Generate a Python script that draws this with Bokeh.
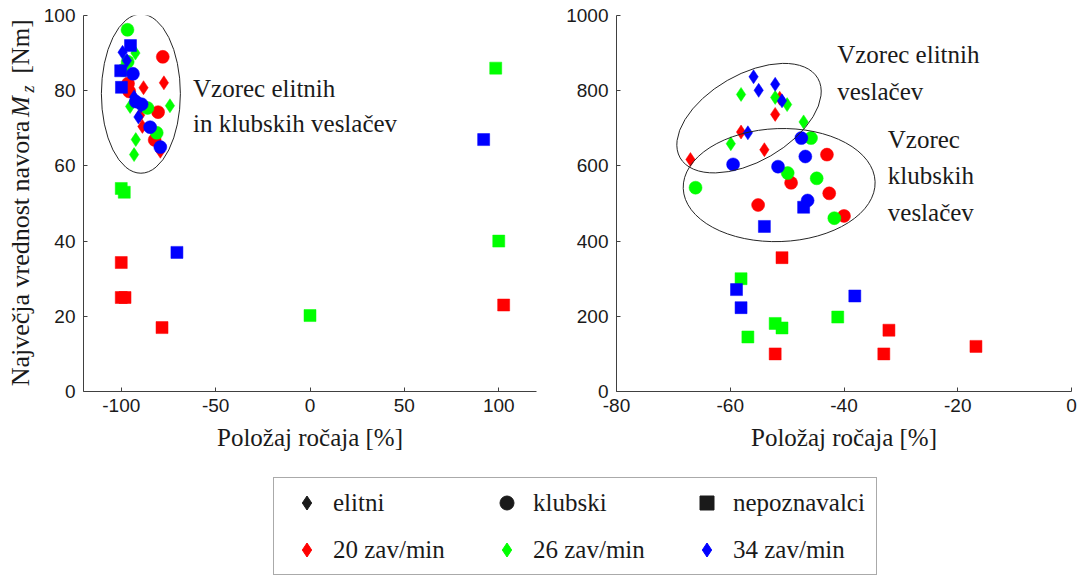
import numpy as np
from bokeh.plotting import figure
from bokeh.models import (Range1d, FixedTicker, Label, Legend, LegendItem,
                          CustomJSTickFormatter)
from bokeh.layouts import column, row
from bokeh.embed import file_html
from bokeh.resources import INLINE

# ---------------------------------------------------------------------------
# Peak handle torque Mz vs. handle position at which it occurs.
# Groups: elite rowers (diamond), club rowers (circle), novices (square);
# colour = stroke rate (20 / 26 / 34 strokes per minute).
# ---------------------------------------------------------------------------

# Left panel: position in % of the stroke, torque in Nm
left_elite_20_x = [-77.4, -88.2, -88.8, -79.3, -90.0]
left_elite_20_y = [82.1, 80.8, 70.5, 63.9, 73.5]
left_elite_26_x = [-92.5, -95.3, -74.2, -92.3, -93.2]
left_elite_26_y = [90.0, 75.8, 76.0, 67.0, 63.0]
left_elite_34_x = [-99.3, -97.0, -93.2, -90.9, -89.5]
left_elite_34_y = [90.2, 88.0, 78.3, 73.0, 76.0]

left_club_20_x = [-78.0, -96.4, -95.8, -80.5, -82.3]
left_club_20_y = [89.0, 81.9, 79.8, 74.3, 66.9]
left_club_26_x = [-96.7, -96.6, -99.0, -86.1, -81.2]
left_club_26_y = [96.2, 87.7, 85.5, 75.4, 68.8]
left_club_34_x = [-93.8, -92.3, -89.2, -84.7, -79.3]
left_club_34_y = [84.5, 77.1, 76.4, 70.3, 65.0]

left_novice_20_x = [-100.0, -100.0, -98.0, -78.4, 102.6]
left_novice_20_y = [34.3, 25.0, 25.0, 17.0, 23.0]
left_novice_26_x = [-100.0, -98.4, 0.0, 100.0, 98.4]
left_novice_26_y = [54.0, 53.0, 20.2, 40.0, 86.0]
left_novice_34_x = [-95.1, -100.3, -99.9, -70.5, 92.0]
left_novice_34_y = [92.0, 85.3, 80.9, 37.0, 67.0]

# Right panel: position in %, torque scale 0..1000
right_elite_20_x = [-52.1, -51.3, -58.1, -54.0, -67.0]
right_elite_20_y = [737, 780, 690, 643, 617]
right_elite_26_x = [-58.1, -52.1, -50.0, -47.1, -59.9]
right_elite_26_y = [790, 782, 763, 717, 659]
right_elite_34_x = [-55.9, -55.0, -52.1, -50.9, -56.9]
right_elite_34_y = [837, 801, 817, 773, 688]

right_club_20_x = [-43.0, -49.3, -42.6, -55.1, -40.0]
right_club_20_y = [630, 555, 527, 496, 467]
right_club_26_x = [-45.8, -49.9, -44.8, -66.1, -41.7]
right_club_26_y = [674, 581, 567, 542, 461]
right_club_34_x = [-47.5, -46.8, -59.5, -51.6, -46.4]
right_club_34_y = [674, 625, 604, 598, 508]

right_novice_20_x = [-50.9, -52.1, -32.1, -33.0, -16.8]
right_novice_20_y = [356, 100, 163, 100, 120]
right_novice_26_x = [-58.1, -52.1, -50.9, -56.9, -41.1]
right_novice_26_y = [300, 181, 169, 145, 198]
right_novice_34_x = [-58.9, -58.1, -38.1, -47.1, -54.0]
right_novice_34_y = [271, 223, 254, 490, 439]

left_xticks = [-100, -50, 0, 50, 100]
left_yticks = [0, 20, 40, 60, 80, 100]
right_xticks = [-80, -60, -40, -20, 0]
right_yticks = [0, 200, 400, 600, 800, 1000]

group_labels = ["elitni", "klubski", "nepoznavalci"]
rate_labels = ["20 zav/min", "26 zav/min", "34 zav/min"]

# ---------------------------------------------------------------------------
RED, GREEN, BLUE = "#ff0000", "#00ff00", "#0000ff"
RATE_COLORS = [RED, GREEN, BLUE]
AXIS_COLOR = "#404040"
TEXT_COLOR = "#1a1a1a"
SERIF = "Liberation Serif"
SANS = "Liberation Sans"
SERIF_SIZE = "25px"
FIG_H = 470
BORDER_TOP, BORDER_BOTTOM = 15, 79

MARKERS = {"elite": ("diamond", 14), "club": ("circle", 13), "novice": ("square", 12)}

left_data = {
    "elite": [(left_elite_20_x, left_elite_20_y), (left_elite_26_x, left_elite_26_y),
              (left_elite_34_x, left_elite_34_y)],
    "club": [(left_club_20_x, left_club_20_y), (left_club_26_x, left_club_26_y),
             (left_club_34_x, left_club_34_y)],
    "novice": [(left_novice_20_x, left_novice_20_y), (left_novice_26_x, left_novice_26_y),
               (left_novice_34_x, left_novice_34_y)],
}
right_data = {
    "elite": [(right_elite_20_x, right_elite_20_y), (right_elite_26_x, right_elite_26_y),
              (right_elite_34_x, right_elite_34_y)],
    "club": [(right_club_20_x, right_club_20_y), (right_club_26_x, right_club_26_y),
             (right_club_34_x, right_club_34_y)],
    "novice": [(right_novice_20_x, right_novice_20_y), (right_novice_26_x, right_novice_26_y),
               (right_novice_34_x, right_novice_34_y)],
}

# plain hyphen-minus tick labels
hyphen_ticks = CustomJSTickFormatter(code="return tick.toString();")


def blank_figure(width, height, xr, yr, top=0, bottom=0):
    f = figure(width=width, height=height, x_range=Range1d(*xr), y_range=Range1d(*yr),
               output_backend="svg", toolbar_location=None,
               min_border_left=0, min_border_right=0,
               min_border_top=top, min_border_bottom=bottom,
               x_axis_location=None, y_axis_location=None)
    f.outline_line_color = None
    f.grid.visible = False
    return f


def make_panel(width, border_left, border_right, xr, yr, xticks, yticks):
    p = figure(width=width, height=FIG_H, x_range=Range1d(*xr), y_range=Range1d(*yr),
               output_backend="svg", toolbar_location=None,
               min_border_left=border_left, min_border_right=border_right,
               min_border_top=BORDER_TOP, min_border_bottom=BORDER_BOTTOM)
    p.outline_line_color = None
    p.grid.visible = False
    p.xaxis.ticker = FixedTicker(ticks=xticks)
    p.yaxis.ticker = FixedTicker(ticks=yticks)
    for ax in p.axis:
        ax.formatter = hyphen_ticks
        ax.axis_line_color = AXIS_COLOR
        ax.axis_line_width = 1
        ax.major_tick_line_color = AXIS_COLOR
        ax.major_tick_in = 4
        ax.major_tick_out = 0
        ax.minor_tick_line_color = None
        ax.major_label_text_font = SANS
        ax.major_label_text_font_size = "19px"
        ax.major_label_text_color = TEXT_COLOR
    p.xaxis.major_label_standoff = 7
    p.yaxis.major_label_standoff = 8
    p.xaxis.axis_label = "Položaj ročaja [%]"
    p.xaxis.axis_label_text_font = SERIF
    p.xaxis.axis_label_text_font_size = SERIF_SIZE
    p.xaxis.axis_label_text_font_style = "normal"
    p.xaxis.axis_label_text_color = TEXT_COLOR
    p.xaxis.axis_label_standoff = 9
    return p


def draw_points(p, data):
    # stroke-rate order: 20, 26, 34 (34 ends up on top)
    for i, color in enumerate(RATE_COLORS):
        for group in ("elite", "club", "novice"):
            marker, size = MARKERS[group]
            xs, ys = data[group][i]
            p.scatter(xs, ys, marker=marker, size=size, fill_color=color,
                      line_color=color, line_width=0.5)


def add_text(p, x, y, text):
    p.add_layout(Label(x=x, y=y, text=text, text_font=SERIF, text_font_size=SERIF_SIZE,
                       text_color=TEXT_COLOR, text_baseline="alphabetic", text_align="left"))


def add_vertical(f, x, center_from_top, text, size, style="normal"):
    # rotated text, centred on the given point, reading upwards
    f.add_layout(Label(x=x, y=FIG_H - center_from_top, text=text, angle=np.pi / 2,
                       text_font=SERIF, text_font_size=size, text_font_style=style,
                       text_color=TEXT_COLOR, text_align="center", text_baseline="middle"))


# ---- vertical axis title (own strip so the italic M with subscript z fits) ----
# the strip's frame lines up with the panels' frames, so its y range is set to
# the same pixel rows (counted from the bottom of the figure)
ylab = blank_figure(40, FIG_H, (0, 40), (BORDER_BOTTOM, FIG_H - BORDER_TOP),
                    top=BORDER_TOP, bottom=BORDER_BOTTOM)
add_vertical(ylab, 20, 253, "Največja vrednost navora", "26px")
add_vertical(ylab, 20, 106, "M", "25px", "italic")
add_vertical(ylab, 27, 88.5, "z", "18px", "italic")
add_vertical(ylab, 20, 46, "[Nm]", "25px")

# ---- left panel ----
p1 = make_panel(516, 40, 20, (-120, 120), (0, 100), left_xticks, left_yticks)
draw_points(p1, left_data)
p1.ellipse(x=[-89.6], y=[79.2], width=[79], height=[159], angle=[0.0],
           width_units="screen", height_units="screen",
           fill_color=None, line_color="#262626", line_width=1)
add_text(p1, -62, 80.5, "Vzorec elitnih")
add_text(p1, -62, 71.2, "in klubskih veslačev")

# ---- right panel ----
p2 = make_panel(528, 60, 13, (-80, 0), (0, 1000), right_xticks, right_yticks)
draw_points(p2, right_data)
p2.ellipse(x=[-56.7, -51.4], y=[727, 549], width=[159, 192], height=[87, 113],
           angle=[np.deg2rad(30), np.deg2rad(2)],
           width_units="screen", height_units="screen",
           fill_color=None, line_color="#262626", line_width=1)
add_text(p2, -41.2, 895, "Vzorec elitnih")
add_text(p2, -41.2, 797, "veslačev")
add_text(p2, -32.3, 670.6, "Vzorec")
add_text(p2, -32.3, 574, "klubskih")
add_text(p2, -32.3, 476, "veslačev")

# ---- shared legend underneath ----
leg = blank_figure(1084, 576 - FIG_H, (0, 1), (0, 1))

# legend swatch renderers: one point each, parked outside the visible range
items = []
for label, (marker, _) in zip(group_labels, MARKERS.values()):
    r = leg.scatter([-10], [-10], marker=marker, fill_color=TEXT_COLOR, line_color=TEXT_COLOR)
    items.append(LegendItem(label=label, renderers=[r]))
for label, color in zip(rate_labels, RATE_COLORS):
    r = leg.scatter([-10], [-10], marker="diamond", fill_color=color, line_color=color)
    items.append(LegendItem(label=label, renderers=[r]))

legend = Legend(items=items, orientation="horizontal", ncols=3, location=(273, 1),
                label_text_font=SERIF, label_text_font_size=SERIF_SIZE,
                label_text_color=TEXT_COLOR, glyph_width=51, glyph_height=35,
                label_standoff=1, label_width=136, label_height=30, spacing=12, padding=7,
                margin=0, border_line_color="#555555", border_line_width=1,
                background_fill_color="white", background_fill_alpha=1.0)
leg.add_layout(legend)

layout = column(row(ylab, p1, p2), leg)
open("out.html", "w").write(file_html(layout, INLINE))
